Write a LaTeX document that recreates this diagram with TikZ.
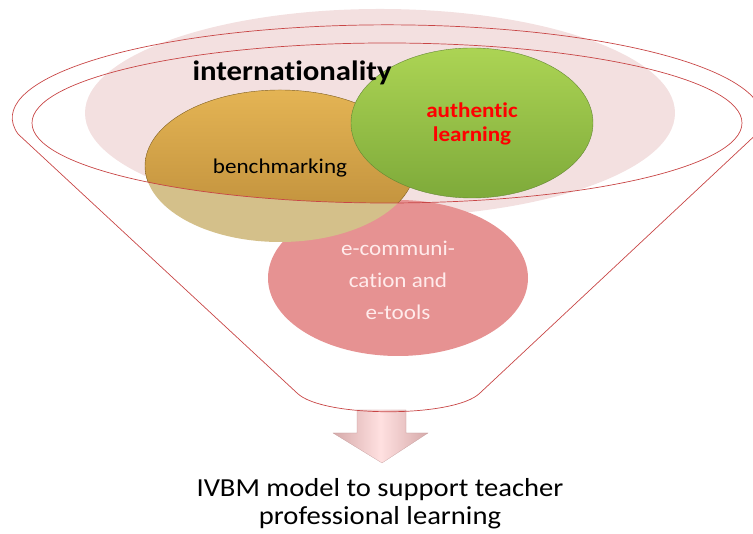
\documentclass[tikz,border=0pt]{standalone}
\usepackage{fontspec}
\setmainfont[FakeStretch=1.1,Ligatures=NoCommon]{Carlito}

\definecolor{funnelred}{RGB}{200,70,70}
\definecolor{palepink}{RGB}{243,224,224}
\definecolor{commpink}{RGB}{230,146,146}
\definecolor{goldtop}{RGB}{228,180,84}
\definecolor{goldbot}{RGB}{186,138,56}
\definecolor{khaki}{RGB}{212,192,138}
\definecolor{greentop}{RGB}{172,212,84}
\definecolor{greenbot}{RGB}{126,170,58}
\definecolor{greenrim}{RGB}{100,136,52}
\definecolor{arrowpink}{RGB}{214,170,170}

\tikzset{
  funnelline/.style={draw=funnelred,line width=.7pt},
  bubbletext/.style={align=center,font=\fontsize{21}{24}\selectfont}
}

\begin{document}
\begin{tikzpicture}[x=1pt,y=1pt]
  \useasboundingbox (0,0) rectangle (753,534);
   \coordinate (Rim) at (387,411);
   \coordinate (Intl) at (380,421);
   \coordinate (Bench) at (280,368);
   \coordinate (Auth) at (472,411);
   \coordinate (Comm) at (398,256);
% pale background of internationality
  \fill[palepink] (Intl) ellipse [x radius=295,y radius=104];
% e-communication
  \fill[commpink] (Comm) ellipse [x radius=130,y radius=78];
% benchmarking: solid inside the rim, pale outside
  \fill[khaki] (Bench) ellipse [x radius=135,y radius=76];
  \begin{scope}
    \clip (Rim) ellipse [x radius=355,y radius=80];
    \shade[top color=goldtop,bottom color=goldbot,draw=goldbot!70!black,thin]
          (Bench) ellipse [x radius=135,y radius=76];
  \end{scope}
% authentic learning
  \shade[top color=greentop,bottom color=greenbot,draw=greenrim,thin]
        (Auth) ellipse [x radius=121,y radius=75];
% block arrow
  \shade[left color=arrowpink,right color=arrowpink,middle color=white!88!red,draw=arrowpink!90!black,very thin]
        (357,124) -- (406,124) -- (406,101) -- (428,101) -- (382,71)
        -- (333,101) -- (357,101) -- cycle;
% the funnel
  \draw[funnelline] (Rim) ellipse [x radius=355,y radius=80];
  \draw[funnelline] (297,141) -- (18,400)
        arc[start angle=190,end angle=-10,x radius=375,y radius=93]
        -- (480,141) .. controls (455,116) and (322,116) .. (297,141);
% texts
  \node[font=\bfseries\fontsize{28}{32}\selectfont] (intl) at (292,461) {internationality};
  \node[bubbletext] (bench) at (280,366) {benchmarking};
  \node[bubbletext,text=red,font=\bfseries\fontsize{21}{24}\selectfont] (auth) at (472,410) {authentic\\learning};
  \node[bubbletext,text=white!92!red,font=\fontsize{21}{32}\selectfont] (comm) at (398,254) {e-communi-\\cation and\\e-tools};
  \node[align=center,font=\fontsize{26}{28}\selectfont] (model) at (380,30) {IVBM model to support teacher\\professional learning};
 \end{tikzpicture}
\end{document}
